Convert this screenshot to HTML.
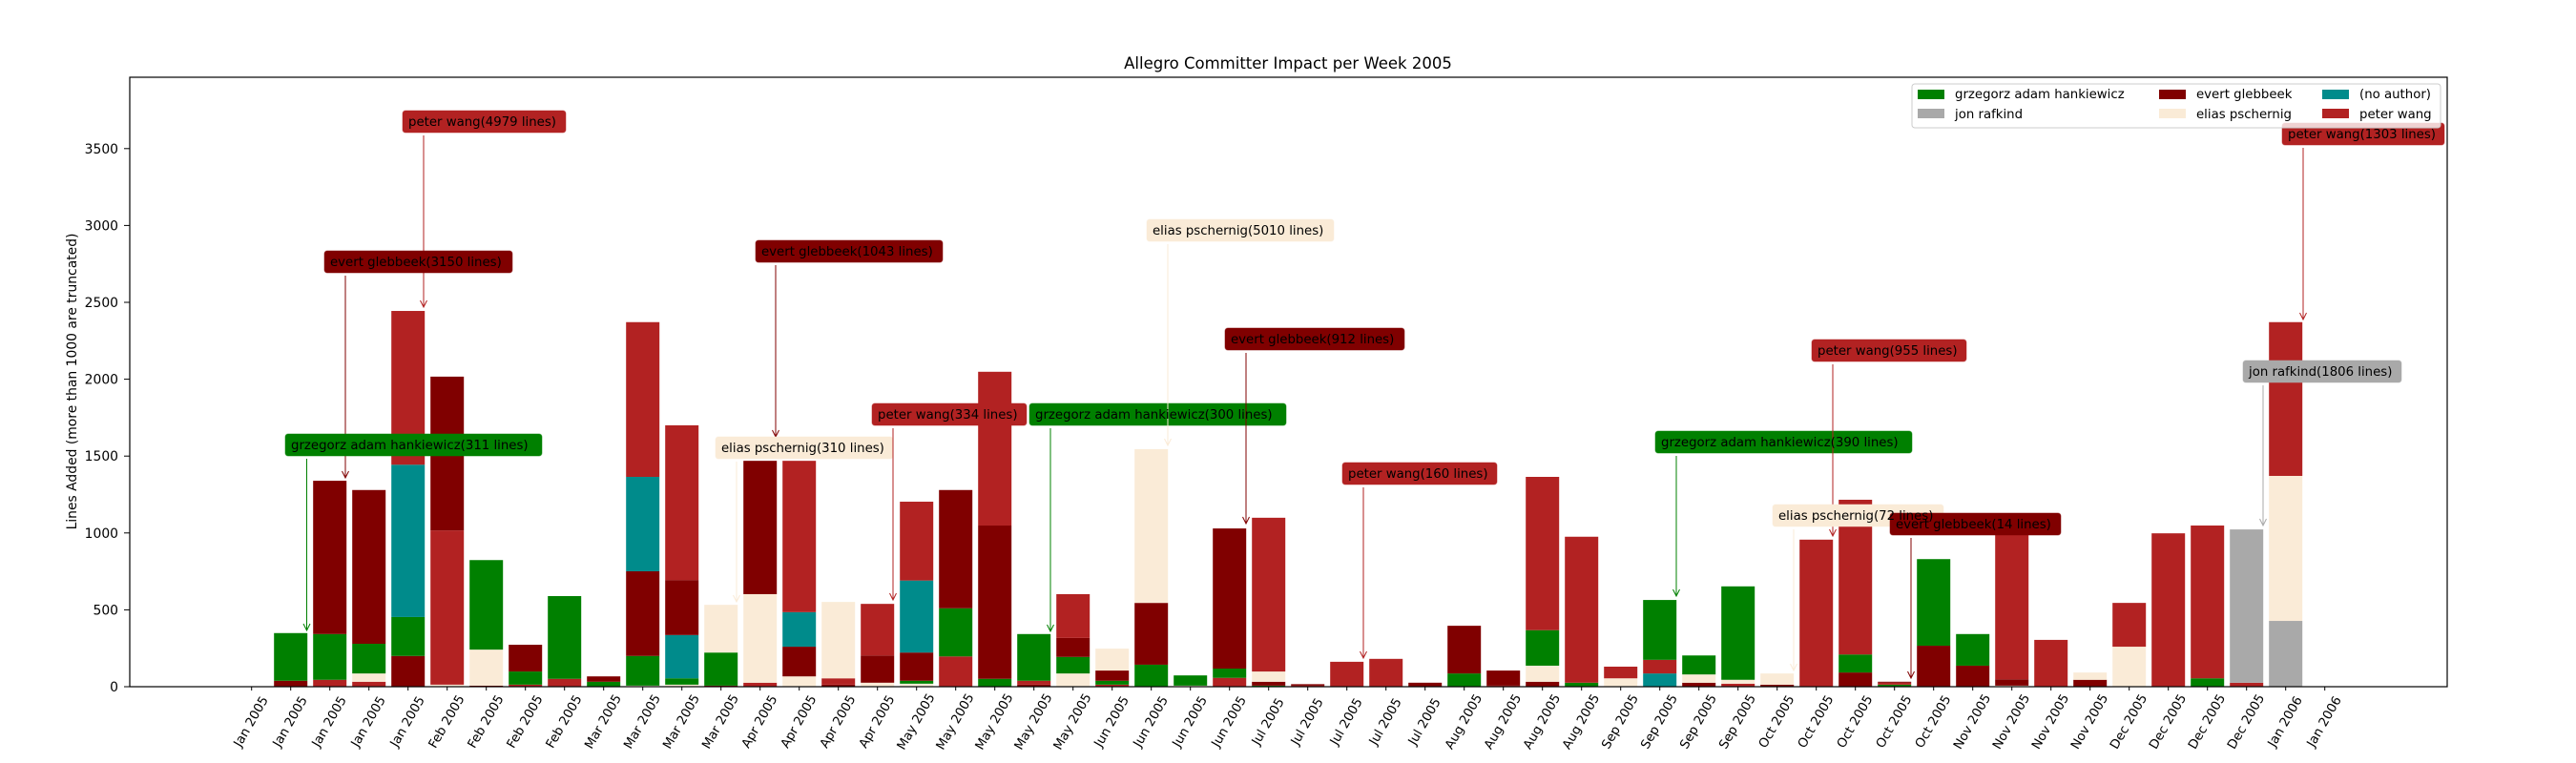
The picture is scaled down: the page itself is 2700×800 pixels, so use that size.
<!DOCTYPE html>
<html><head><meta charset="utf-8"><style>
html,body{margin:0;padding:0;background:#fff;}
svg{display:block;font-family:"DejaVu Sans","Liberation Sans",sans-serif;}
</style></head><body>
<svg id="s" width="2700" height="800" viewBox="0 0 2700 800" xmlns="http://www.w3.org/2000/svg">
<rect width="2700" height="800" fill="#fff"/>
<g id="bars"></g>
<text x="1350" y="72" font-size="16.5" text-anchor="middle" fill="#000">Allegro Committer Impact per Week 2005</text>
<text transform="translate(80,400) rotate(-90)" font-size="13.9" text-anchor="middle" fill="#000">Lines Added (more than 1000 are truncated)</text>
<g font-size="13.9" text-anchor="end" fill="#000">
<text x="124" y="725">0</text>
<text x="124" y="644.4">500</text>
<text x="124" y="563.8">1000</text>
<text x="124" y="483.2">1500</text>
<text x="124" y="402.6">2000</text>
<text x="124" y="322">2500</text>
<text x="124" y="241.4">3000</text>
<text x="124" y="160.8">3500</text>
</g>
<g stroke="#000" stroke-width="1">
<line x1="130" y1="720" x2="136" y2="720"/><line x1="130" y1="639.4" x2="136" y2="639.4"/><line x1="130" y1="558.8" x2="136" y2="558.8"/><line x1="130" y1="478.2" x2="136" y2="478.2"/><line x1="130" y1="397.6" x2="136" y2="397.6"/><line x1="130" y1="317" x2="136" y2="317"/><line x1="130" y1="236.4" x2="136" y2="236.4"/><line x1="130" y1="155.8" x2="136" y2="155.8"/>
</g>
<g id="xt"></g>
<g id="ann"></g>
<rect x="136" y="81" width="2429" height="639" fill="none" stroke="#000" stroke-width="1.2"/>
</svg>
<script>
var C={g:"#008000",d:"#800000",t:"#008b8b",r:"#b22222",w:"#faebd7",a:"#a9a9a9"};
var D={1:"d1399 g1301",2:"r1397 g1303 d988",3:"r1401 w1384 g1323 d1007",4:"d1348 g1268 t955 r639",5:"w1407 r1090 d774",6:"d1409 w1335 g1151",7:"r1407 g1380 d1325",8:"r1395 g1225",9:"g1401 d1390",10:"w1409 g1348 d1174 t980 r662",11:"w1407 g1394 t1305 d1192 r874",12:"d1409 g1341 w1243",13:"r1403 w1221 d947",14:"w1390 d1329 t1258 r947",15:"d1407 r1394 w1237",16:"w1403 d1347 r1241",17:"w1405 g1399 d1341 t1193 r1031",18:"r1349 g1250 d1007",19:"g1395 d1080 r764",20:"d1407 r1399 g1303",21:"w1384 g1350 d1311 r1221",22:"r1407 g1399 d1378 w1333",23:"g1366 d1239 w923",24:"w1409 g1388",25:"r1393 g1374 d1086",26:"g1409 d1401 w1380 r1064",27:"r1409 d1406",28:"r1360",29:"r1354",30:"d1403",31:"g1384 d1286",32:"r1409 d1378",33:"d1401 w1368 g1295 r980",34:"g1403 r1103",35:"w1394 r1370",36:"t1384 r1356 g1233",37:"d1403 w1386 g1347",38:"r1405 w1397 g1205",39:"d1407 w1384",40:"r1109",41:"d1382 g1345 r1027",42:"g1407 r1403 d1401",43:"d1327 g1149",44:"d1368 g1303",45:"w1409 d1396 r1080",46:"r1315",47:"d1397 w1382",48:"w1329 r1239",49:"r1096",50:"g1394 r1080",51:"r1403 a1088",52:"a1276 w978 r662"};
var bars=document.getElementById("bars"),h="";
function X(i){return 263.7+41*i;}
for(var i in D){var segs=D[i].split(" "),prev=720,x=X(+i)-17.5;
segs.forEach(function(s){var y=parseFloat(s.slice(1))/1.96;h+='<rect x="'+x+'" y="'+y+'" width="35" height="'+(prev-y)+'" fill="'+C[s[0]]+'"/>';prev=y;});}
bars.innerHTML=h;
var t="";for(var k=0;k<54;k++){t+='<line x1="'+X(k)+'" y1="720" x2="'+X(k)+'" y2="724" stroke="#000"/>';}
document.getElementById("xt").innerHTML=t;
var A=[["r","peter wang(4979 lines)",422,116,593,444,322],["d","evert glebbeek(3150 lines)",340,263,537,362,501],["g","grzegorz adam hankiewicz(311 lines)",299,455,568,321.5,661],["d","evert glebbeek(1043 lines)",792,252,988,813,458],["w","elias pschernig(310 lines)",750,458,936,772,631],["r","peter wang(334 lines)",914,423,1076,936,629],["g","grzegorz adam hankiewicz(300 lines)",1079,423,1348,1101,662],["w","elias pschernig(5010 lines)",1202,230,1398,1224,467],["d","evert glebbeek(912 lines)",1284,344,1472,1306,549],["r","peter wang(160 lines)",1407,485,1569,1429,690],["g","grzegorz adam hankiewicz(390 lines)",1735,452,2004,1757,625],["r","peter wang(955 lines)",1899,356,2061,1921,562],["w","elias pschernig(72 lines)",1858,529,2037,1880,703],["d","evert glebbeek(14 lines)",1981,538,2160,2003,711],["a","jon rafkind(1806 lines)",2351,378,2517,2372,551],["r","peter wang(1303 lines)",2392,129,2562,2414,335]];
var a="";A.forEach(function(v){var c=C[v[0]];
a+='<line x1="'+v[5]+'" y1="'+(v[3]+26)+'" x2="'+v[5]+'" y2="'+v[6]+'" stroke="'+c+'" stroke-width="1"/>';
a+='<path d="M'+(v[5]-3.5)+' '+(v[6]-7)+' L'+v[5]+' '+v[6]+' L'+(v[5]+3.5)+' '+(v[6]-7)+'" fill="none" stroke="'+c+'" stroke-width="1"/>';
a+='<rect x="'+v[2]+'" y="'+v[3]+'" width="'+(v[4]-v[2])+'" height="23" rx="3" fill="'+c+'" stroke="'+c+'" stroke-opacity="0.5"/>';});
document.getElementById("ann").innerHTML=a;
</script>
<div style="position:absolute;left:0;top:0;width:2700px;height:800px;pointer-events:none">
<svg width="2700" height="800" style="font-family:'DejaVu Sans','Liberation Sans',sans-serif">
<g font-size="13.3" fill="#000">
<text x="428" y="132">peter wang(4979 lines)</text>
<text x="346" y="279">evert glebbeek(3150 lines)</text>
<text x="305" y="471">grzegorz adam hankiewicz(311 lines)</text>
<text x="798" y="268">evert glebbeek(1043 lines)</text>
<text x="756" y="474">elias pschernig(310 lines)</text>
<text x="920" y="439">peter wang(334 lines)</text>
<text x="1085" y="439">grzegorz adam hankiewicz(300 lines)</text>
<text x="1208" y="246">elias pschernig(5010 lines)</text>
<text x="1290" y="360">evert glebbeek(912 lines)</text>
<text x="1413" y="501">peter wang(160 lines)</text>
<text x="1741" y="468">grzegorz adam hankiewicz(390 lines)</text>
<text x="1905" y="372">peter wang(955 lines)</text>
<text x="1864" y="545">elias pschernig(72 lines)</text>
<text x="1987" y="554">evert glebbeek(14 lines)</text>
<text x="2357" y="394">jon rafkind(1806 lines)</text>
<text x="2398" y="145">peter wang(1303 lines)</text>
</g>
<g>
<rect x="2004" y="88" width="554" height="46" rx="3" fill="#fff" fill-opacity="0.8" stroke="#ccc"/>
<rect x="2010" y="94" width="28" height="10" fill="#008000"/>
<text x="2049" y="103" font-size="13.3">grzegorz adam hankiewicz</text>
<rect x="2010" y="114" width="28" height="10" fill="#a9a9a9"/>
<text x="2049" y="124" font-size="13.3">jon rafkind</text>
<rect x="2263" y="94" width="28" height="10" fill="#800000"/>
<text x="2302" y="103" font-size="13.3">evert glebbeek</text>
<rect x="2263" y="114" width="28" height="10" fill="#faebd7"/>
<text x="2302" y="124" font-size="13.3">elias pschernig</text>
<rect x="2434" y="94" width="28" height="10" fill="#008b8b"/>
<text x="2473" y="103" font-size="13.3">(no author)</text>
<rect x="2434" y="114" width="28" height="10" fill="#b22222"/>
<text x="2473" y="124" font-size="13.3">peter wang</text>
</g>
<g font-size="13.3" fill="#000" text-anchor="middle" dominant-baseline="central">
<text transform="translate(263.7,757) rotate(-60)">Jan 2005</text>
<text transform="translate(304.7,757) rotate(-60)">Jan 2005</text>
<text transform="translate(345.7,757) rotate(-60)">Jan 2005</text>
<text transform="translate(386.7,757) rotate(-60)">Jan 2005</text>
<text transform="translate(427.7,757) rotate(-60)">Jan 2005</text>
<text transform="translate(468.7,757) rotate(-60)">Feb 2005</text>
<text transform="translate(509.7,757) rotate(-60)">Feb 2005</text>
<text transform="translate(550.7,757) rotate(-60)">Feb 2005</text>
<text transform="translate(591.7,757) rotate(-60)">Feb 2005</text>
<text transform="translate(632.7,757) rotate(-60)">Mar 2005</text>
<text transform="translate(673.7,757) rotate(-60)">Mar 2005</text>
<text transform="translate(714.7,757) rotate(-60)">Mar 2005</text>
<text transform="translate(755.7,757) rotate(-60)">Mar 2005</text>
<text transform="translate(796.7,757) rotate(-60)">Apr 2005</text>
<text transform="translate(837.7,757) rotate(-60)">Apr 2005</text>
<text transform="translate(878.7,757) rotate(-60)">Apr 2005</text>
<text transform="translate(919.7,757) rotate(-60)">Apr 2005</text>
<text transform="translate(960.7,757) rotate(-60)">May 2005</text>
<text transform="translate(1001.7,757) rotate(-60)">May 2005</text>
<text transform="translate(1042.7,757) rotate(-60)">May 2005</text>
<text transform="translate(1083.7,757) rotate(-60)">May 2005</text>
<text transform="translate(1124.7,757) rotate(-60)">May 2005</text>
<text transform="translate(1165.7,757) rotate(-60)">Jun 2005</text>
<text transform="translate(1206.7,757) rotate(-60)">Jun 2005</text>
<text transform="translate(1247.7,757) rotate(-60)">Jun 2005</text>
<text transform="translate(1288.7,757) rotate(-60)">Jun 2005</text>
<text transform="translate(1329.7,757) rotate(-60)">Jul 2005</text>
<text transform="translate(1370.7,757) rotate(-60)">Jul 2005</text>
<text transform="translate(1411.7,757) rotate(-60)">Jul 2005</text>
<text transform="translate(1452.7,757) rotate(-60)">Jul 2005</text>
<text transform="translate(1493.7,757) rotate(-60)">Jul 2005</text>
<text transform="translate(1534.7,757) rotate(-60)">Aug 2005</text>
<text transform="translate(1575.7,757) rotate(-60)">Aug 2005</text>
<text transform="translate(1616.7,757) rotate(-60)">Aug 2005</text>
<text transform="translate(1657.7,757) rotate(-60)">Aug 2005</text>
<text transform="translate(1698.7,757) rotate(-60)">Sep 2005</text>
<text transform="translate(1739.7,757) rotate(-60)">Sep 2005</text>
<text transform="translate(1780.7,757) rotate(-60)">Sep 2005</text>
<text transform="translate(1821.7,757) rotate(-60)">Sep 2005</text>
<text transform="translate(1862.7,757) rotate(-60)">Oct 2005</text>
<text transform="translate(1903.7,757) rotate(-60)">Oct 2005</text>
<text transform="translate(1944.7,757) rotate(-60)">Oct 2005</text>
<text transform="translate(1985.7,757) rotate(-60)">Oct 2005</text>
<text transform="translate(2026.7,757) rotate(-60)">Oct 2005</text>
<text transform="translate(2067.7,757) rotate(-60)">Nov 2005</text>
<text transform="translate(2108.7,757) rotate(-60)">Nov 2005</text>
<text transform="translate(2149.7,757) rotate(-60)">Nov 2005</text>
<text transform="translate(2190.7,757) rotate(-60)">Nov 2005</text>
<text transform="translate(2231.7,757) rotate(-60)">Dec 2005</text>
<text transform="translate(2272.7,757) rotate(-60)">Dec 2005</text>
<text transform="translate(2313.7,757) rotate(-60)">Dec 2005</text>
<text transform="translate(2354.7,757) rotate(-60)">Dec 2005</text>
<text transform="translate(2395.7,757) rotate(-60)">Jan 2006</text>
<text transform="translate(2436.7,757) rotate(-60)">Jan 2006</text>
</g>
</svg>
</div>
</body></html>
